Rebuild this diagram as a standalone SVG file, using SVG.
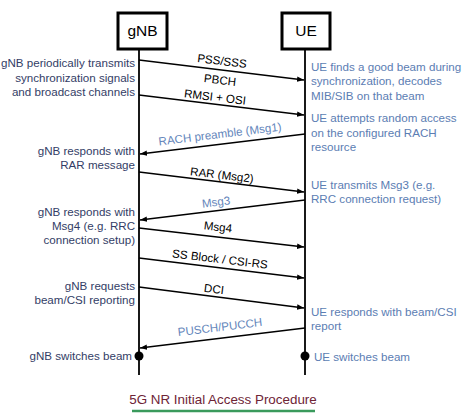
<svg xmlns="http://www.w3.org/2000/svg" width="474" height="419" viewBox="0 0 474 419">
<defs>
<style>
.box{fill:#fff;stroke:#000;stroke-width:3}
.life{stroke:#000;stroke-width:1.8;fill:none}
.msg{stroke:#000;stroke-width:1.5;fill:none;marker-end:url(#ah)}
.t{font-family:"Liberation Sans",Arial,sans-serif;font-size:11.6px}
.hd{font-family:"Liberation Sans",Arial,sans-serif;font-size:15.5px;fill:#000;text-anchor:middle}
.l{fill:#333d66;text-anchor:end}
.r{fill:#5b7db3}
.ab{fill:#000;text-anchor:middle}
.au{fill:#6486bb;text-anchor:middle}
</style>
<marker id="ah" viewBox="0 0 10 10" refX="10" refY="5" markerWidth="7" markerHeight="7" markerUnits="userSpaceOnUse" orient="auto">
<path d="M0,1 L10,5 L0,9 Z" fill="#000"/>
</marker>
</defs>
<rect width="474" height="419" fill="#fff"/>

<g id="gNB">
<line class="life" x1="139" y1="49" x2="139" y2="375"/>
<rect class="box" x="118" y="13" width="49" height="36"/>
<text class="hd" x="142.5" y="36">gNB</text>
<circle cx="139" cy="356" r="4.5" fill="#000"/>
</g>
<g id="UE">
<line class="life" x1="305" y1="49" x2="305" y2="375"/>
<rect class="box" x="282" y="13" width="48" height="36"/>
<text class="hd" x="306" y="36">UE</text>
<circle cx="305" cy="356" r="4.5" fill="#000"/>
</g>

<g id="connectors">
<line class="msg" x1="139" y1="60" x2="304" y2="80"/>
<line class="msg" x1="139" y1="95" x2="304" y2="115"/>
<line class="msg" x1="305" y1="134" x2="140" y2="154"/>
<line class="msg" x1="139" y1="172" x2="304" y2="192"/>
<line class="msg" x1="305" y1="200" x2="140" y2="220"/>
<line class="msg" x1="139" y1="228" x2="304" y2="247"/>
<line class="msg" x1="139" y1="258" x2="304" y2="278"/>
<line class="msg" x1="139" y1="287" x2="304" y2="308"/>
<line class="msg" x1="305" y1="328" x2="140" y2="348"/>
</g>

<g id="arrow-labels" class="t">
<text class="ab" transform="translate(222,61) rotate(6.9)" dy="4">PSS/SSS</text>
<text class="ab" transform="translate(220,80) rotate(6.9)" dy="4">PBCH</text>
<text class="ab" transform="translate(215,97) rotate(6.9)" dy="4">RMSI + OSI</text>
<text class="au" transform="translate(220,134) rotate(-6.9)" dy="4">RACH preamble (Msg1)</text>
<text class="ab" transform="translate(222,175) rotate(6.9)" dy="4">RAR (Msg2)</text>
<text class="au" transform="translate(216,202) rotate(-6.9)" dy="4">Msg3</text>
<text class="ab" transform="translate(218,227) rotate(6.6)" dy="4">Msg4</text>
<text class="ab" transform="translate(220,259) rotate(6.9)" dy="4">SS Block / CSI-RS</text>
<text class="ab" transform="translate(214,289) rotate(7.2)" dy="4">DCI</text>
<text class="au" transform="translate(220,327) rotate(-6.9)" dy="4">PUSCH/PUCCH</text>
</g>

<g id="gnb-notes" class="t l">
<text x="135" y="67">gNB periodically transmits</text>
<text x="135" y="81.5">synchronization signals</text>
<text x="135" y="96">and broadcast channels</text>
<text x="135" y="155">gNB responds with</text>
<text x="135" y="169">RAR message</text>
<text x="135" y="216">gNB responds with</text>
<text x="135" y="230">Msg4 (e.g. RRC</text>
<text x="135" y="244">connection setup)</text>
<text x="135" y="290">gNB requests</text>
<text x="135" y="304">beam/CSI reporting</text>
<text x="132" y="360">gNB switches beam</text>
</g>

<g id="ue-notes" class="t r">
<text x="311" y="71">UE finds a good beam during</text>
<text x="311" y="85">synchronization, decodes</text>
<text x="311" y="99.5">MIB/SIB on that beam</text>
<text x="311" y="122">UE attempts random access</text>
<text x="311" y="137">on the configured RACH</text>
<text x="311" y="150.5">resource</text>
<text x="311" y="189">UE transmits Msg3 (e.g.</text>
<text x="311" y="203">RRC connection request)</text>
<text x="311" y="316">UE responds with beam/CSI</text>
<text x="311" y="330">report</text>
<text x="314" y="361">UE switches beam</text>
</g>

<g id="caption">
<text x="223" y="404" font-family="'Liberation Sans',Arial,sans-serif" font-size="13.4" fill="#6e2436" text-anchor="middle">5G NR Initial Access Procedure</text>
<line x1="132" y1="411" x2="315" y2="411" stroke="#3a9a5c" stroke-width="2.5"/>
</g>
</svg>
